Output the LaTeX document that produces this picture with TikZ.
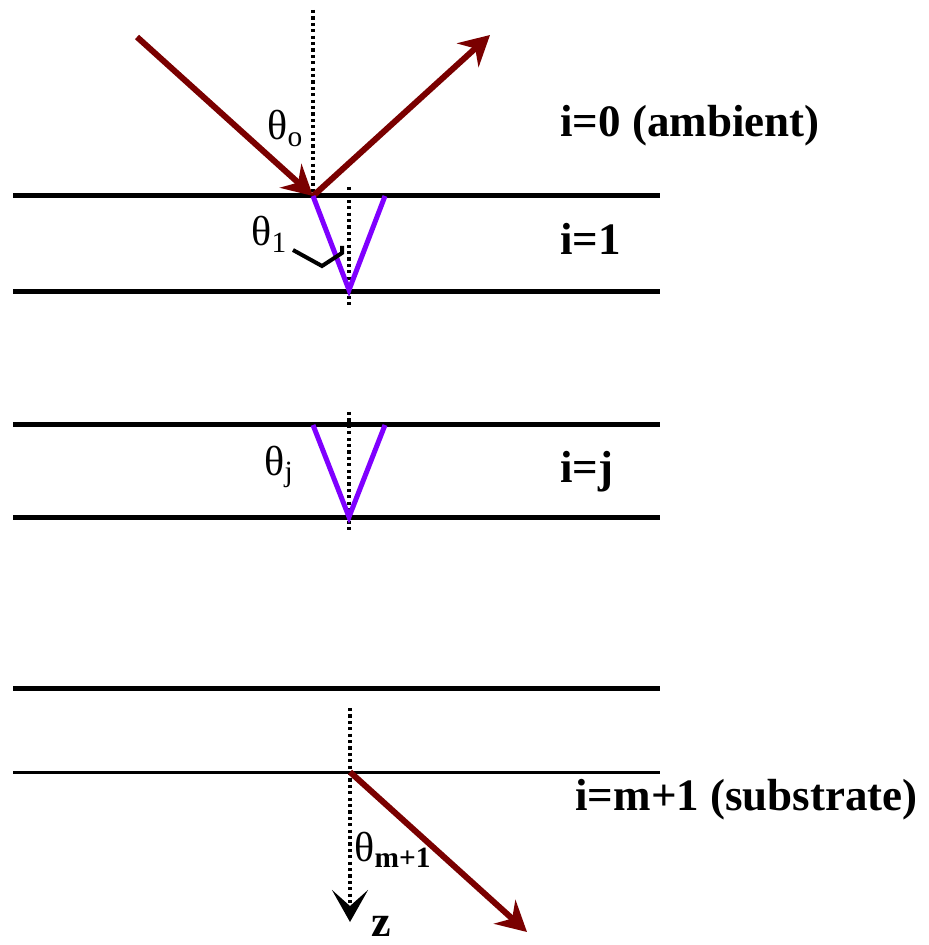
\documentclass[tikz,border=0pt]{standalone}
\usepackage{fontspec}
\setmainfont{Liberation Serif}
\usetikzlibrary{arrows.meta}
\definecolor{rayred}{RGB}{122,0,0}
\definecolor{wavepurple}{RGB}{127,0,255}
\begin{document}
\begin{tikzpicture}[x=0.5pt,y=-0.5pt,
        iface/.style={line width=2.5pt},
        normalline/.style={line width=2.2pt, dash pattern=on 1.6pt off 1.6pt},
        beam/.style={line width=3pt, rayred, -{Stealth[length=15pt,width=16pt,inset=5pt]}},
        inbeam/.style={line width=2.5pt, wavepurple, line join=miter},
        layerlabel/.style={anchor=base west, inner sep=0pt, font=\bfseries\fontsize{22.5}{24}\selectfont},
        anglabel/.style={anchor=base west, inner sep=0pt, font=\fontsize{21}{24}\selectfont}]
        \useasboundingbox (0,0) rectangle (928,945);

        % Positions
        \coordinate (S) at (137,37);
        \coordinate (O) at (313,196);
        \coordinate (R) at (490,35);
        \coordinate (B1) at (349,290);
        \coordinate (T1) at (385,196);
        \coordinate (Oj) at (313,425);
        \coordinate (Bj) at (349,517);
        \coordinate (Tj) at (385,425);
        \coordinate (Om) at (350,772);
        \coordinate (Tm) at (527,932);

        % Interfaces
        \foreach \y in {196,292,425,517,688}
            \draw[iface] (13,\y) -- (660,\y);
        \draw[line width=1.5pt] (13,772) -- (660,772);

        % Normals
        \coordinate (N0) at (313,10);
        \coordinate (N1a) at (349,187);
        \coordinate (N1b) at (349,306);
        \coordinate (Nja) at (349,412);
        \coordinate (Njb) at (349,531);
        \coordinate (Nm) at (350,708);
        \coordinate (Z) at (350,922);
        \draw[normalline] (N0) -- (O);
        \draw[normalline] (N1a) -- (N1b);
        \draw[normalline] (Nja) -- (Njb);
        \draw[normalline, -{Stealth[length=16pt,width=18pt,inset=8pt]}] (Nm) -- (Z);

        % Rays
        \draw[beam] (S) -- (O);
        \draw[beam] (O) -- (R);
        \draw[inbeam] (O) -- (B1) -- (T1);
        \draw[inbeam] (Oj) -- (Bj) -- (Tj);
        \draw[beam] (Om) -- (Tm);

        % Angle marker
        \coordinate (M1) at (293,250);
        \coordinate (M2) at (322,266);
        \coordinate (M3) at (342,253);
        \coordinate (M4) at (342,246);
        \draw[line width=2pt] (M1) -- (M2) -- (M3) -- (M4);

        % Labels
        \node[anglabel] (th0) at (267,140) {θ\textsubscript{o}};
        \node[anglabel] (th1) at (251,246) {θ\textsubscript{1}};
        \node[anglabel] (thj) at (264,475) {θ\textsubscript{j}};
        \node[anglabel] (thm) at (354,861) {θ\textsubscript{\textbf{m+1}}};
        \node[anglabel, font=\bfseries\fontsize{22}{24}\selectfont] (zlab) at (371,936) {z};
        \node[layerlabel] (L0) at (560,137) {i=0 (ambient)};
        \node[layerlabel] (L1) at (560,255) {i=1};
        \node[layerlabel] (Lj) at (560,482) {i=j};
        \node[layerlabel] (Lm) at (575,810) {i=m+1 (substrate)};
\end{tikzpicture}
\end{document}
